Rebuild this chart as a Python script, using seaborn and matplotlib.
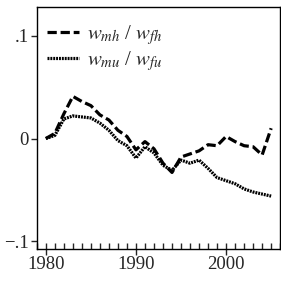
import numpy as np
import pandas as pd
import matplotlib
matplotlib.use("Agg")
import matplotlib.pyplot as plt
from matplotlib.ticker import MultipleLocator, FixedLocator, FuncFormatter
import seaborn as sns

# ---- data ----
years = list(range(1980, 2006))
mh_fh = [0.000, 0.005, 0.024, 0.041, 0.036, 0.032, 0.023, 0.018, 0.008, 0.002,
         -0.011, -0.003, -0.010, -0.024, -0.033, -0.018, -0.015, -0.012, -0.006, -0.007,
         0.002, -0.003, -0.007, -0.008, -0.016, 0.010]
mu_fu = [0.000, 0.003, 0.019, 0.022, 0.021, 0.020, 0.015, 0.008, -0.002, -0.007,
         -0.019, -0.008, -0.014, -0.026, -0.031, -0.021, -0.024, -0.021, -0.029, -0.038,
         -0.041, -0.044, -0.049, -0.052, -0.054, -0.056]
series_names = [r"$w_{mh}$ / $w_{fh}$", r"$w_{mu}$ / $w_{fu}$"]
y_ticks = [-0.1, 0.0, 0.1]
y_tick_labels = ["\u2212.1", "0", ".1"]
x_ticks = [1980, 1990, 2000]

df = pd.DataFrame({
    "year": years * 2,
    "value": mh_fh + mu_fu,
    "series": [series_names[0]] * len(years) + [series_names[1]] * len(years),
})

# ---- style ----
sns.set_style("ticks")
plt.rcParams["font.family"] = ["Liberation Serif", "DejaVu Serif"]
plt.rcParams["mathtext.fontset"] = "stix"

fig, ax = plt.subplots(figsize=(2.81, 2.88), dpi=100)
fig.subplots_adjust(left=0.131, right=0.997, top=0.976, bottom=0.137)

sns.lineplot(data=df, x="year", y="value", style="series", color="black",
             dashes={series_names[0]: (2.9, 1.2), series_names[1]: (0.6, 0.3)},
             linewidth=2.3, ax=ax)

ax.set_xlim(1979, 2006)
ax.set_ylim(-0.107, 0.128)
ax.set_xlabel("")
ax.set_ylabel("")

ax.xaxis.set_major_locator(FixedLocator(x_ticks))
ax.xaxis.set_minor_locator(MultipleLocator(1))
ax.yaxis.set_major_locator(FixedLocator(y_ticks))
ax.yaxis.set_major_formatter(FuncFormatter(lambda v, p: y_tick_labels[y_ticks.index(round(v, 1))]))

ax.tick_params(axis="x", which="major", direction="inout", length=9, width=1, labelsize=13.5, pad=1)
ax.tick_params(axis="x", which="minor", direction="in", length=4, width=1)
ax.tick_params(axis="y", which="major", direction="out", length=4, width=1, labelsize=13.5, pad=2)

for sp in ax.spines.values():
    sp.set_visible(True)
    sp.set_linewidth(1)
    sp.set_color("black")

leg = ax.legend(loc="upper left", frameon=False, fontsize=15, handlelength=1.55,
                handletextpad=0.4, borderaxespad=0.0, labelspacing=0.12,
                borderpad=0.3, bbox_to_anchor=(0.015, 0.96))

fig.savefig("out.png", dpi=100)
